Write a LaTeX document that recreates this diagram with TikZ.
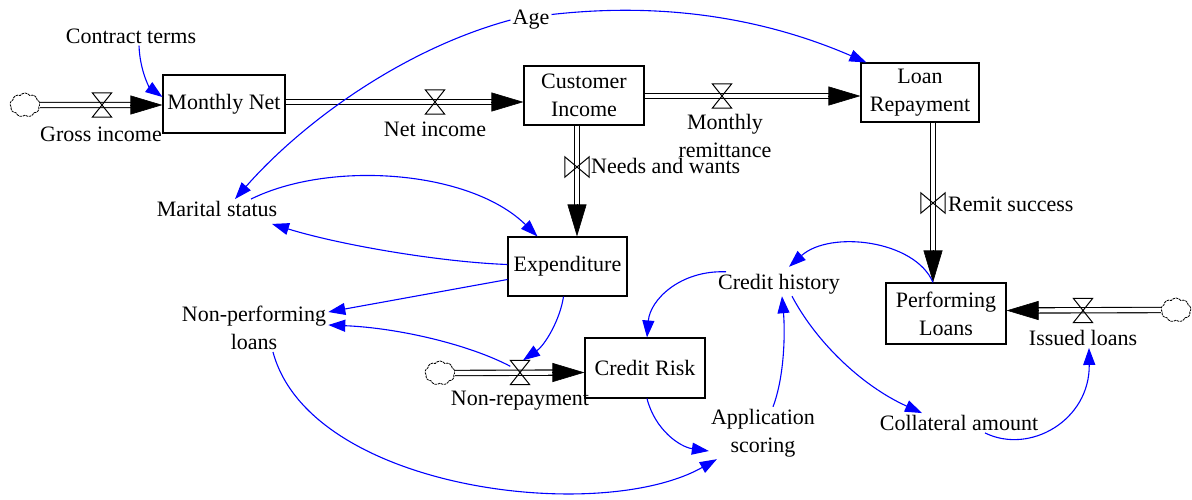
\documentclass[tikz,border=0pt]{standalone}
\usepackage{fontspec}
\setmainfont{Liberation Serif}
\usetikzlibrary{arrows.meta,calc,shapes.symbols}
\begin{document}
\begin{tikzpicture}[x=1pt,y=-1pt,
  every node/.style={font=\fontsize{22}{28}\selectfont},
  stock/.style={draw,line width=1.1pt,fill=white,align=center,inner sep=2pt},
  var/.style={align=center,inner sep=2pt},
  pipe/.style={draw,double,double distance=4.2pt,line width=1.1pt},
  flowtip/.style={-{Triangle[length=32pt,width=19pt]},line width=0.6pt},
  link/.style={draw=blue,line width=1.1pt,-{Triangle[length=17pt,width=12pt]}},
  valve/.style={inner sep=0,minimum width=19pt,minimum height=24pt},
  valvev/.style={inner sep=0,minimum width=24pt,minimum height=20pt},
  valveline/.style={line width=1pt},
  cloudsh/.style={cloud,cloud puffs=9,cloud puff arc=110,aspect=1.25,draw,line width=0.8pt,
    dash pattern=on 2.5pt off 0.8pt,minimum width=30pt,minimum height=24pt,inner sep=0,fill=white}]
\useasboundingbox (0,0) rectangle (1192,499);

% stocks
\node[stock,minimum width=122pt,minimum height=58pt] (mn) at (224,104) {Monthly Net};
\node[stock,minimum width=120pt,minimum height=59pt] (ci) at (584,95.5) {Customer\\Income};
\node[stock,minimum width=118pt,minimum height=59pt] (lr) at (920,92.5) {Loan\\Repayment};
\node[stock,minimum width=119pt,minimum height=59pt] (ex) at (567.5,266.5) {Expenditure};
\node[stock,minimum width=120pt,minimum height=60pt] (cr) at (645,368) {Credit Risk};
\node[stock,minimum width=120pt,minimum height=61pt] (pl) at (946,313.5) {Performing\\Loans};

% clouds
\node[cloudsh] (c1) at (25,105) {};
\node[cloudsh] (c2) at (440,373) {};
\node[cloudsh] (c3) at (1176,310) {};

% valves
\node[valve] (vg) at (102,105) {};
\node[valve] (vn) at (435,102) {};
\node[valve] (vm) at (722,96) {};
\node[valvev] (vw) at (577,167) {};
\node[valvev] (vs) at (933,203) {};
\node[valve] (vi) at (1083,310.5) {};
\node[valve] (vr) at (520,372.5) {};

% flow labels
\node[var] (lg) at (101,134) {Gross income};
\node[var] (ln) at (435,129) {Net income};
\node[var] (lm) at (725,136) {Monthly\\remittance};
\node[var,anchor=west] (lw) at (589,166) {Needs and wants};
\node[var,anchor=west] (ls) at (946,204) {Remit success};
\node[var] (il) at (1083,338) {Issued loans};
\node[var] (lr2) at (520,401) {Non-repayment};

% auxiliaries
\node[var] (ct) at (131,36) {Contract terms};
\node[var] (ag) at (531,20) {Age};
\node[var] (ms) at (217,209) {Marital status};
\node[var] (npl) at (254,328) {Non-performing\\loans};
\node[var] (ch) at (779,284) {Credit history};
\node[var] (as) at (763,433) {Application\\scoring};
\node[var] (ca) at (959,423) {Collateral amount};

% pipes
\draw[pipe,shorten >=20pt] (c1.east) -- (mn.west |- vg);
\draw[flowtip] ($(mn.west |- vg)+(-32,0)$) -- (mn.west |- vg);
\draw[pipe,shorten >=20pt] (mn.east |- vn) -- (ci.west |- vn);
\draw[flowtip] ($(ci.west |- vn)+(-32,0)$) -- (ci.west |- vn);
\draw[pipe,shorten >=20pt] (ci.east |- vm) -- (lr.west |- vm);
\draw[flowtip] ($(lr.west |- vm)+(-32,0)$) -- (lr.west |- vm);
\draw[pipe,shorten >=20pt] (ci.south -| vw) -- (ex.north -| vw);
\draw[flowtip] ($(ex.north -| vw)+(0,-32)$) -- (ex.north -| vw);
\draw[pipe,shorten >=20pt] (lr.south -| vs) -- (pl.north -| vs);
\draw[flowtip] ($(pl.north -| vs)+(0,-32)$) -- (pl.north -| vs);
\draw[pipe,shorten >=20pt] (c3.west) -- (pl.east |- vi);
\draw[flowtip] ($(pl.east |- vi)+(32,0)$) -- (pl.east |- vi);
\draw[pipe,shorten >=20pt] (c2.east) -- (cr.west |- vr);
\draw[flowtip] ($(cr.west |- vr)+(-32,0)$) -- (cr.west |- vr);

% valve bowties
\foreach \v in {vg,vn,vm,vi,vr}
  \draw[valveline] (\v.north west) -- (\v.north east) -- (\v.south west) -- (\v.south east) -- cycle;
\foreach \v in {vw,vs}
  \draw[valveline] (\v.north west) -- (\v.south west) -- (\v.north east) -- (\v.south east) -- cycle;

% links
\draw[link] ([xshift=8pt]ct.south) .. controls (140,72) and (150,88) .. ([yshift=7pt]mn.west);
\draw[link] (ag.15) .. controls (680,0) and (780,25) .. ([xshift=6pt]lr.north west);
\draw[link] (ag.west) .. controls (400,50) and (300,125) .. ([xshift=18pt]ms.north);
\draw[link] ([xshift=34pt]ms.north) .. controls (330,160) and (470,170) .. ([xshift=-30pt]ex.north);
\draw[link] ([yshift=2pt]ex.west) .. controls (440,262) and (340,245) .. ([xshift=55pt,yshift=-5pt]ms.south);
\draw[link] ([yshift=-13pt]ex.west) -- ([yshift=16pt]npl.east);
\draw[link] ([xshift=-4pt]ex.south) .. controls (560,320) and (545,345) .. ([xshift=3pt]vr.north);
\draw[link] ([yshift=-6pt]vr.north west) .. controls (470,345) and (400,328) .. ([yshift=3pt]npl.east);
\draw[link] ([xshift=19pt]npl.south) .. controls (310,490) and (600,525) .. ([xshift=8pt]as.south west);
\draw[link] ([xshift=2pt]cr.south) .. controls (655,430) and (680,447) .. ([yshift=-18pt]as.west);
\draw[link] ([xshift=10pt]as.north) .. controls (785,375) and (785,330) .. ([xshift=3pt]ch.south);
\draw[link] ([xshift=10pt]ch.north west) .. controls (680,270) and (650,300) .. ([xshift=2pt]cr.north);
\draw[link] ([xshift=-13pt]pl.north) .. controls (915,240) and (830,230) .. ([xshift=10pt,yshift=5pt]ch.north);
\draw[link] ([xshift=13pt]ch.south) .. controls (815,340) and (860,385) .. ([xshift=-37pt]ca.north);
\draw[link] ([xshift=26pt]ca.south) .. controls (1030,455) and (1090,420) .. ([xshift=6pt]il.south);
\end{tikzpicture}
\end{document}
